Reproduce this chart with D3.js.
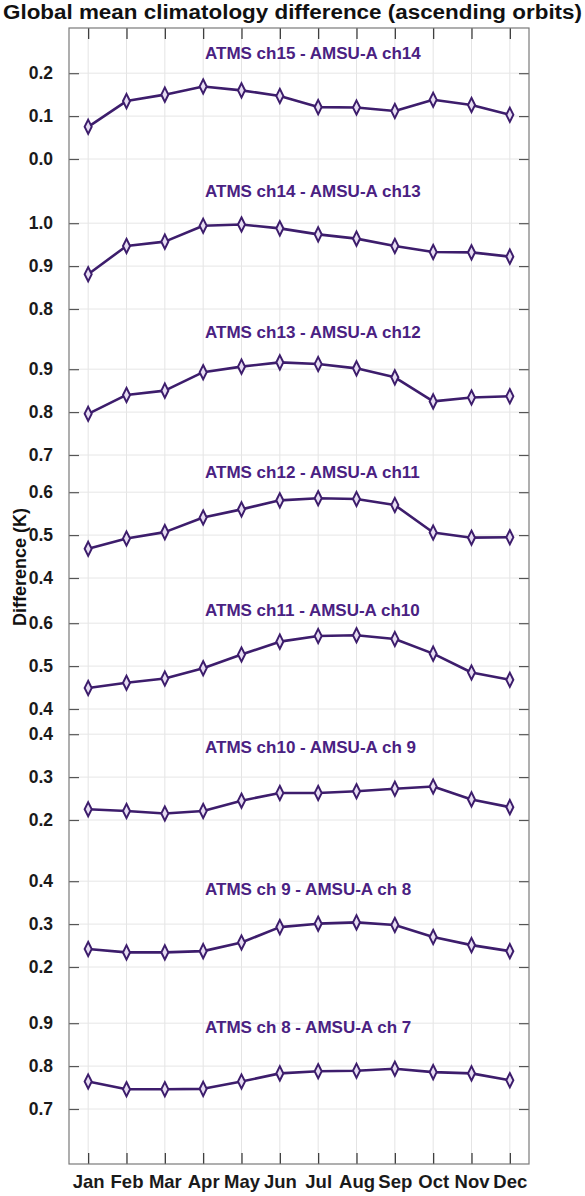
<!DOCTYPE html>
<html>
<head>
<meta charset="utf-8">
<script src="https://cdn.jsdelivr.net/npm/d3@7"></script>
<style>
  html, body { margin: 0; padding: 0; background: #fff; }
  svg { display: block; font-family: "Liberation Sans", Arial, Helvetica, sans-serif; }
</style>
</head>
<body>
<svg id="chart" width="585" height="1196"></svg>
<script>
// Months on the shared x axis
const months = ["Jan","Feb","Mar","Apr","May","Jun","Jul","Aug","Sep","Oct","Nov","Dec"];

// Channel-pair labels, top to bottom
const pairs = [
  "ATMS ch15 - AMSU-A ch14",
  "ATMS ch14 - AMSU-A ch13",
  "ATMS ch13 - AMSU-A ch12",
  "ATMS ch12 - AMSU-A ch11",
  "ATMS ch11 - AMSU-A ch10",
  "ATMS ch10 - AMSU-A ch 9",
  "ATMS ch 9 - AMSU-A ch 8",
  "ATMS ch 8 - AMSU-A ch 7"
];

// Monthly global mean differences (K), one array per channel pair
const ch15_ch14 = [0.075, 0.135, 0.150, 0.169, 0.160, 0.147, 0.121, 0.120, 0.112, 0.138, 0.126, 0.103];
const ch14_ch13 = [0.881, 0.947, 0.957, 0.994, 0.997, 0.988, 0.974, 0.964, 0.947, 0.933, 0.932, 0.922];
const ch13_ch12 = [0.796, 0.840, 0.850, 0.893, 0.906, 0.916, 0.912, 0.902, 0.881, 0.825, 0.834, 0.837];
const ch12_ch11 = [0.468, 0.492, 0.507, 0.541, 0.560, 0.581, 0.586, 0.584, 0.570, 0.506, 0.494, 0.495];
const ch11_ch10 = [0.449, 0.461, 0.471, 0.495, 0.527, 0.557, 0.570, 0.572, 0.563, 0.529, 0.485, 0.468];
const ch10_ch9  = [0.225, 0.221, 0.215, 0.221, 0.245, 0.263, 0.263, 0.267, 0.273, 0.278, 0.248, 0.230];
const ch9_ch8   = [0.242, 0.234, 0.234, 0.237, 0.257, 0.293, 0.301, 0.304, 0.298, 0.270, 0.251, 0.237];
const ch8_ch7   = [0.764, 0.746, 0.746, 0.747, 0.764, 0.783, 0.788, 0.789, 0.794, 0.786, 0.783, 0.767];
const series = [ch15_ch14, ch14_ch13, ch13_ch12, ch12_ch11, ch11_ch10, ch10_ch9, ch9_ch8, ch8_ch7];

// Tick labels shown for each strip
const tickLabels = [
  ["0.0","0.1","0.2"],
  ["0.8","0.9","1.0"],
  ["0.7","0.8","0.9"],
  ["0.4","0.5","0.6"],
  ["0.4","0.5","0.6"],
  ["0.2","0.3","0.4"],
  ["0.2","0.3","0.4"],
  ["0.7","0.8","0.9"]
];

// Strip layout: pixel row of each strip's lowest tick, and the value height of its label
const stripBase = [159, 309, 455, 578, 709, 820, 967, 1109];
const labelAt   = [0.247, 1.075, 0.987, 0.647, 0.631, 0.370, 0.382, 0.891];

const W = 585, H = 1196;
const frame = { left: 69, right: 529, top: 28, bottom: 1164 };
const pxPerUnit = 429;
const purple = "#3d1d6c";
const textPurple = "#4a2182";
const FONT = "'Liberation Sans', Arial, Helvetica, sans-serif";

const svg = d3.select("#chart");

const x = d3.scaleLinear().domain([0.5, 12.5]).range([frame.left, frame.right]);

// One linear scale per strip, sharing the same vertical resolution
const yScales = tickLabels.map((t, i) => {
  const lo = +t[0];
  return d3.scaleLinear().domain([lo, lo + 1]).range([stripBase[i], stripBase[i] - pxPerUnit]);
});

const grid = svg.append("g");
const axes = svg.append("g");
const plot = svg.append("g");

// Vertical grid lines at each month
grid.selectAll("line.vg").data(months).join("line")
  .attr("x1", (d, i) => x(i + 1)).attr("x2", (d, i) => x(i + 1))
  .attr("y1", frame.top).attr("y2", frame.bottom)
  .attr("stroke", "#e4e4e4").attr("stroke-width", 1);

// Horizontal grid lines + left/right y axes for each strip
tickLabels.forEach((t, i) => {
  const y = yScales[i];
  const vals = t.map(Number);
  grid.selectAll(null).data(vals).join("line")
    .attr("x1", frame.left).attr("x2", frame.right)
    .attr("y1", d => y(d)).attr("y2", d => y(d))
    .attr("stroke", "#e6e6e6").attr("stroke-width", 1);

  const leftAxis = d3.axisLeft(y).tickValues(vals).tickFormat((d, k) => t[k]).tickSizeInner(-10).tickSizeOuter(0).tickPadding(16);
  const gl = axes.append("g").attr("transform", `translate(${frame.left},0)`).call(leftAxis);
  gl.select(".domain").remove();
  gl.selectAll(".tick line").attr("stroke", "#555").attr("stroke-width", 1.2);
  gl.selectAll(".tick text").attr("font-size", 17.5).attr("font-weight", "bold").attr("fill", "#1a1a1a")
    .attr("font-family", FONT);

  const rightAxis = d3.axisRight(y).tickValues(vals).tickFormat("").tickSizeInner(-10).tickSizeOuter(0);
  const gr = axes.append("g").attr("transform", `translate(${frame.right},0)`).call(rightAxis);
  gr.select(".domain").remove();
  gr.selectAll(".tick line").attr("stroke", "#555").attr("stroke-width", 1.2);
});

// Month axes at bottom (labelled) and top (ticks only)
const bottomAxis = d3.axisBottom(x).tickValues(d3.range(1, 13)).tickFormat(d => months[d - 1]).tickSizeInner(-11).tickSizeOuter(0).tickPadding(11);
const gb = axes.append("g").attr("transform", `translate(0,${frame.bottom})`).call(bottomAxis);
gb.select(".domain").remove();
gb.selectAll(".tick line").attr("stroke", "#333").attr("stroke-width", 1.2);
gb.selectAll(".tick text").attr("font-size", 18.5).attr("font-weight", "bold").attr("fill", "#1a1a1a")
  .attr("font-family", FONT);

const topAxis = d3.axisTop(x).tickValues(d3.range(1, 13)).tickFormat("").tickSizeInner(-11).tickSizeOuter(0);
const gt = axes.append("g").attr("transform", `translate(0,${frame.top})`).call(topAxis);
gt.select(".domain").remove();
gt.selectAll(".tick line").attr("stroke", "#333").attr("stroke-width", 1.2);

// Frame
axes.append("rect")
  .attr("x", frame.left).attr("y", frame.top)
  .attr("width", frame.right - frame.left).attr("height", frame.bottom - frame.top)
  .attr("fill", "none").attr("stroke", "#7a7a7a").attr("stroke-width", 1.2);

// Lines, markers and strip labels
const diamond = d3.symbol().type(d3.symbolDiamond).size(48);
series.forEach((vals, i) => {
  const y = yScales[i];
  const line = d3.line().x((d, k) => x(k + 1)).y(d => y(d));
  plot.append("path").datum(vals)
    .attr("d", line).attr("fill", "none")
    .attr("stroke", purple).attr("stroke-width", 2.6).attr("stroke-linejoin", "round");
  plot.selectAll(null).data(vals).join("path")
    .attr("d", diamond)
    .attr("transform", (d, k) => `translate(${x(k + 1)},${y(d)}) scale(0.95,1.1)`)
    .attr("fill", "#e6dcf2").attr("stroke", purple).attr("stroke-width", 2);
  plot.append("text")
    .attr("x", 205).attr("y", y(labelAt[i])).attr("dy", "0.35em")
    .attr("font-size", 17).attr("font-weight", "bold").attr("fill", textPurple)
    .attr("font-family", FONT)
    .text(pairs[i]);
});

// Title and y-axis label
svg.append("text")
  .attr("x", 3).attr("y", 19)
  .attr("font-size", 19.5).attr("font-weight", "bold").attr("fill", "#111")
  .attr("textLength", 579).attr("lengthAdjust", "spacingAndGlyphs")
  .text("Global mean climatology difference (ascending orbits)");

svg.append("text")
  .attr("transform", `translate(26,567) rotate(-90)`)
  .attr("text-anchor", "middle")
  .attr("font-size", 18).attr("font-weight", "bold").attr("fill", "#111")
  .text("Difference (K)");
</script>
</body>
</html>
